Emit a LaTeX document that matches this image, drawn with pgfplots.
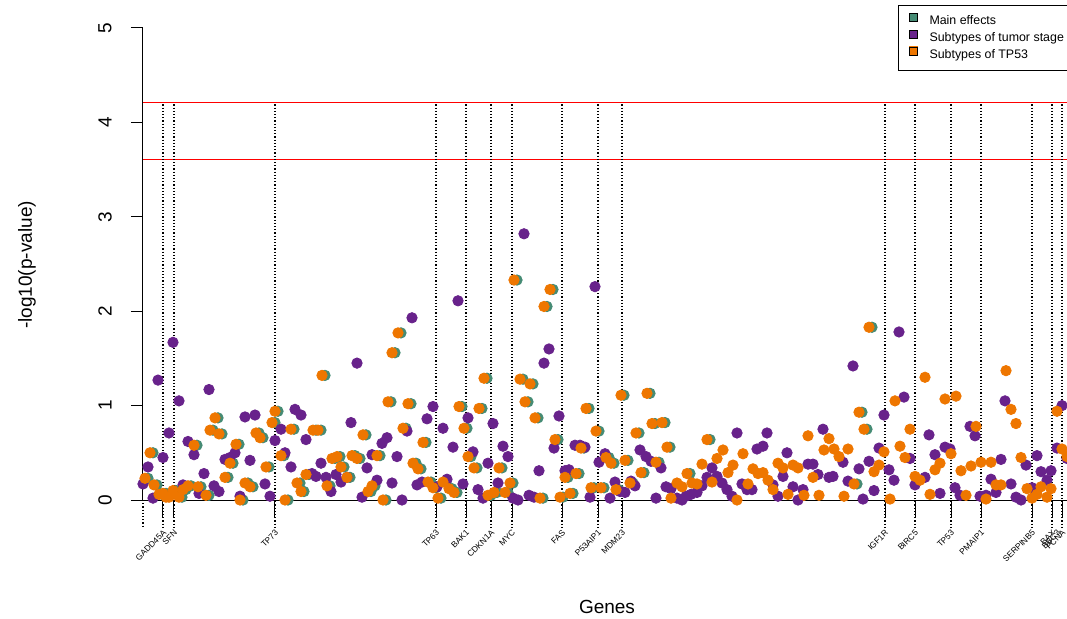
\documentclass[border=0pt]{standalone}
\usepackage{pgfplots}
\pgfplotsset{compat=1.18}
\usepackage{pgfplotstable}
\usepackage{fontspec}
\setmainfont{Liberation Sans}
\definecolor{gR}{HTML}{458B74}
\definecolor{pR}{HTML}{68228B}
\definecolor{oR}{HTML}{EE7600}

% Subtypes of TP53 (orange)
\pgfplotstableread{
x y
145 0.23
150 0.50
154 0.16
159 0.06
163 0.07
166 0.03
169 0.03
173 0.10
179 0.03
183 0.11
188 0.15
194 0.58
198 0.14
206 0.05
210 0.74
215 0.87
219 0.70
225 0.24
230 0.39
236 0.59
240 0.00
245 0.18
250 0.14
256 0.71
260 0.66
266 0.35
272 0.82
275 0.94
281 0.47
285 0.00
291 0.75
297 0.18
301 0.09
306 0.27
313 0.74
318 0.74
322 1.32
327 0.15
332 0.44
337 0.46
341 0.35
347 0.24
352 0.47
357 0.44
363 0.69
368 0.09
372 0.15
377 0.47
383 0.00
388 1.04
392 1.56
398 1.77
403 0.76
408 1.02
413 0.39
418 0.33
423 0.61
428 0.19
433 0.13
438 0.02
443 0.19
449 0.12
454 0.08
459 0.99
464 0.76
468 0.46
474 0.34
479 0.97
484 1.29
488 0.05
494 0.08
499 0.34
505 0.08
510 0.18
514 2.33
520 1.28
525 1.04
530 1.23
535 0.87
540 0.02
544 2.05
550 2.23
555 0.64
560 0.03
565 0.24
570 0.07
576 0.28
581 0.55
586 0.97
591 0.13
596 0.73
601 0.13
606 0.45
611 0.39
616 0.11
621 1.11
625 0.42
630 0.18
636 0.71
641 0.29
647 1.13
652 0.81
656 0.40
662 0.82
667 0.56
671 0.02
677 0.18
682 0.14
687 0.28
692 0.18
697 0.17
702 0.38
707 0.64
712 0.19
717 0.44
723 0.53
728 0.29
733 0.37
737 0.00
743 0.49
748 0.17
753 0.33
758 0.28
763 0.29
768 0.21
773 0.11
778 0.39
783 0.34
788 0.06
793 0.37
798 0.34
804 0.05
808 0.68
813 0.24
819 0.05
824 0.53
829 0.65
834 0.54
839 0.46
844 0.04
848 0.54
854 0.17
859 0.93
864 0.75
869 1.83
874 0.30
879 0.37
884 0.51
890 0.01
895 1.05
900 0.57
905 0.45
910 0.75
915 0.25
920 0.21
925 1.30
930 0.06
935 0.32
940 0.39
945 1.07
951 0.49
956 1.10
961 0.31
966 0.05
971 0.36
976 0.78
981 0.40
986 0.01
991 0.40
996 0.16
1001 0.16
1006 1.37
1011 0.96
1016 0.81
1021 0.45
1027 0.12
1032 0.02
1037 0.06
1041 0.14
1047 0.03
1051 0.12
1057 0.94
1062 0.54
1067 0.46
}\orangedata

% Main effects (green), nearly identical to TP53 subtypes
\pgfplotstableread{
x y
148 0.23
153 0.50
157 0.16
162 0.06
166 0.07
176 0.10
182 0.03
186 0.11
191 0.15
197 0.58
201 0.14
209 0.05
213 0.74
218 0.87
222 0.70
228 0.24
233 0.39
239 0.59
243 0.00
248 0.18
253 0.14
259 0.71
263 0.66
269 0.35
275 0.82
278 0.94
284 0.47
288 0.00
294 0.75
300 0.18
304 0.09
309 0.27
316 0.74
321 0.74
325 1.32
330 0.15
335 0.44
340 0.46
344 0.35
350 0.24
355 0.47
360 0.44
366 0.69
371 0.09
375 0.15
380 0.47
386 0.00
391 1.04
395 1.56
401 1.77
406 0.76
411 1.02
416 0.39
421 0.33
426 0.61
431 0.19
436 0.13
441 0.02
446 0.19
452 0.12
457 0.08
462 0.99
467 0.76
471 0.46
477 0.34
482 0.97
487 1.29
491 0.05
497 0.08
502 0.34
508 0.08
513 0.18
517 2.33
523 1.28
528 1.04
533 1.23
538 0.87
543 0.02
547 2.05
553 2.23
558 0.64
563 0.03
568 0.24
573 0.07
579 0.28
584 0.55
589 0.97
594 0.13
599 0.73
604 0.13
609 0.45
614 0.39
619 0.11
624 1.11
628 0.42
633 0.18
639 0.71
644 0.29
650 1.13
655 0.81
659 0.40
665 0.82
670 0.56
690 0.28
710 0.64
857 0.17
862 0.93
867 0.75
872 1.83
}\greendata

% Subtypes of tumor stage (purple)
\pgfplotstableread{
x y
143 0.17
148 0.35
153 0.02
158 1.27
163 0.45
169 0.71
173 1.67
179 1.05
183 0.16
188 0.62
194 0.48
199 0.07
204 0.28
209 1.17
214 0.15
219 0.09
225 0.43
230 0.45
235 0.50
240 0.04
245 0.88
250 0.42
255 0.90
265 0.17
270 0.04
275 0.63
281 0.75
285 0.50
291 0.35
295 0.96
301 0.90
306 0.64
312 0.28
316 0.25
321 0.39
326 0.24
331 0.09
336 0.27
341 0.19
347 0.24
351 0.82
357 1.45
362 0.03
367 0.34
372 0.48
377 0.21
382 0.60
387 0.66
392 0.18
397 0.46
402 0.00
407 0.73
412 1.93
417 0.16
422 0.19
427 0.86
433 0.99
437 0.14
443 0.76
447 0.22
453 0.56
458 2.11
463 0.17
468 0.87
473 0.51
478 0.11
483 0.02
488 0.39
493 0.81
498 0.18
503 0.57
508 0.46
513 0.02
518 0.00
524 2.82
529 0.05
534 0.03
539 0.31
544 1.45
549 1.60
554 0.55
559 0.89
565 0.31
569 0.32
575 0.58
580 0.58
585 0.56
590 0.03
595 2.26
599 0.40
605 0.49
610 0.02
615 0.19
620 0.09
625 0.08
631 0.20
635 0.15
640 0.53
646 0.46
651 0.41
656 0.02
661 0.34
666 0.14
671 0.12
677 0.02
682 0.00
686 0.04
691 0.06
697 0.08
702 0.15
707 0.24
712 0.34
717 0.25
722 0.18
727 0.11
732 0.04
737 0.71
742 0.17
747 0.11
752 0.11
757 0.54
763 0.57
767 0.71
773 0.16
778 0.04
783 0.25
787 0.50
793 0.14
798 0.00
803 0.11
808 0.38
813 0.38
818 0.27
823 0.75
829 0.24
833 0.25
843 0.40
848 0.20
853 1.42
859 0.33
863 0.01
869 0.41
874 0.10
879 0.55
884 0.90
889 0.32
894 0.21
899 1.78
904 1.09
910 0.44
915 0.16
925 0.24
929 0.69
935 0.48
940 0.07
945 0.56
950 0.54
955 0.13
960 0.05
970 0.78
975 0.68
980 0.04
986 0.05
991 0.22
996 0.08
1001 0.43
1005 1.05
1011 0.17
1016 0.03
1021 0.00
1026 0.37
1032 0.13
1037 0.47
1041 0.30
1047 0.21
1051 0.31
1057 0.55
1062 1.00
1067 0.44
}\purpledata

\newcommand{\gene}[2]{%
  \draw[black, line width=0.55pt, dash pattern=on 0.55pt off 1.05pt] (axis cs:#1,4.19) -- (axis cs:#1,-0.29);
  \draw[black, line width=0.5pt] (axis cs:#1,0) -- (axis cs:#1,-0.18);
  \node[rotate=45, anchor=east, inner sep=0pt, font=\fontsize{4.2}{5}\selectfont] at (axis cs:#1+2,-0.33) {#2};
}

\begin{document}
\begin{tikzpicture}
\useasboundingbox (0,0) rectangle (533.5pt,309.5pt);
\begin{axis}[
  at={(65pt,50.05pt)}, anchor=south west,
  width=485pt, height=254.9pt, scale only axis,
  xmin=130, xmax=1100, ymin=-0.2, ymax=5.2,
  axis lines=none, ticks=none, clip=false,
  legend cell align=left,
  legend style={at={(axis cs:898,5.244)}, anchor=north west,
    draw=black, line width=0.5pt, inner xsep=5pt, inner ysep=3.6pt,
    font=\fontsize{6.2}{7.5}\selectfont,
    nodes={inner sep=1pt, text height=4.6pt, text depth=1.4pt},
    row sep=0pt,
    /tikz/every odd column/.append style={column sep=5pt}},
]
% threshold lines
\draw[red, line width=0.6pt] (axis cs:143,4.21) -- (axis cs:1100,4.21);
\draw[red, line width=0.6pt] (axis cs:143,3.61) -- (axis cs:1100,3.61);
% zero line and y axis
\draw[black, line width=0.5pt] (axis cs:132,0) -- (axis cs:1100,0);
\draw[black, line width=0.5pt] (axis cs:143,0) -- (axis cs:143,5);
\draw[black, line width=0.5pt] (axis cs:131,0) -- (axis cs:143,0);
\draw[black, line width=0.5pt] (axis cs:131,1) -- (axis cs:143,1);
\draw[black, line width=0.5pt] (axis cs:131,2) -- (axis cs:143,2);
\draw[black, line width=0.5pt] (axis cs:131,3) -- (axis cs:143,3);
\draw[black, line width=0.5pt] (axis cs:131,4) -- (axis cs:143,4);
\draw[black, line width=0.5pt] (axis cs:131,5) -- (axis cs:143,5);
\node[rotate=90, font=\fontsize{9.5}{11}\selectfont] at (axis cs:105,0) {0};
\node[rotate=90, font=\fontsize{9.5}{11}\selectfont] at (axis cs:105,1) {1};
\node[rotate=90, font=\fontsize{9.5}{11}\selectfont] at (axis cs:105,2) {2};
\node[rotate=90, font=\fontsize{9.5}{11}\selectfont] at (axis cs:105,3) {3};
\node[rotate=90, font=\fontsize{9.5}{11}\selectfont] at (axis cs:105,4) {4};
\node[rotate=90, font=\fontsize{9.5}{11}\selectfont] at (axis cs:105,5) {5};
\node[rotate=90, font=\fontsize{9.5}{11}\selectfont] at (axis cs:27,2.49) {-log10(p-value)};
\node[font=\fontsize{9.5}{11}\selectfont] at (axis cs:607,-1.13) {Genes};
% gene markers
\draw[black, line width=0.55pt, dash pattern=on 0.55pt off 1.05pt] (axis cs:143,0) -- (axis cs:143,-0.29);
\gene{163}{GADD45A}
\gene{174}{SFN}
\gene{275}{TP73}
\gene{436}{TP63}
\gene{466}{BAK1}
\gene{491}{CDKN1A}
\gene{512}{MYC}
\gene{562}{FAS}
\gene{598}{P53AIP1}
\gene{622}{MDM23}
\gene{885}{IGF1R}
\gene{915}{BIRC5}
\gene{951}{TP53}
\gene{981}{PMAIP1}
\gene{1032}{SERPINB5}
\gene{1052}{BAX}
\node[rotate=45, anchor=east, inner sep=0pt, font=\fontsize{4.2}{5}\selectfont] at (axis cs:1059,-0.33) {BBC3};
\gene{1062}{PCNA}
% data
\addplot[color=gR, only marks, mark=*, mark size=2.6pt, forget plot] table[x=x,y=y] {\greendata};
\addplot[color=pR, only marks, mark=*, mark size=2.6pt, forget plot] table[x=x,y=y] {\purpledata};
\addplot[color=oR, only marks, mark=*, mark size=2.6pt, forget plot] table[x=x,y=y] {\orangedata};
% legend
\addlegendimage{legend image code/.code={\fill[gR] (0pt,0.2pt) rectangle (4pt,4.2pt); \draw[black,line width=0.4pt] (0pt,0.2pt) rectangle (4pt,4.2pt);}}
\addlegendentry{Main effects}
\addlegendimage{legend image code/.code={\fill[pR] (0pt,0.2pt) rectangle (4pt,4.2pt); \draw[black,line width=0.4pt] (0pt,0.2pt) rectangle (4pt,4.2pt);}}
\addlegendentry{Subtypes of tumor stage}
\addlegendimage{legend image code/.code={\fill[oR] (0pt,0.2pt) rectangle (4pt,4.2pt); \draw[black,line width=0.4pt] (0pt,0.2pt) rectangle (4pt,4.2pt);}}
\addlegendentry{Subtypes of TP53}
\end{axis}
\end{tikzpicture}
\end{document}
